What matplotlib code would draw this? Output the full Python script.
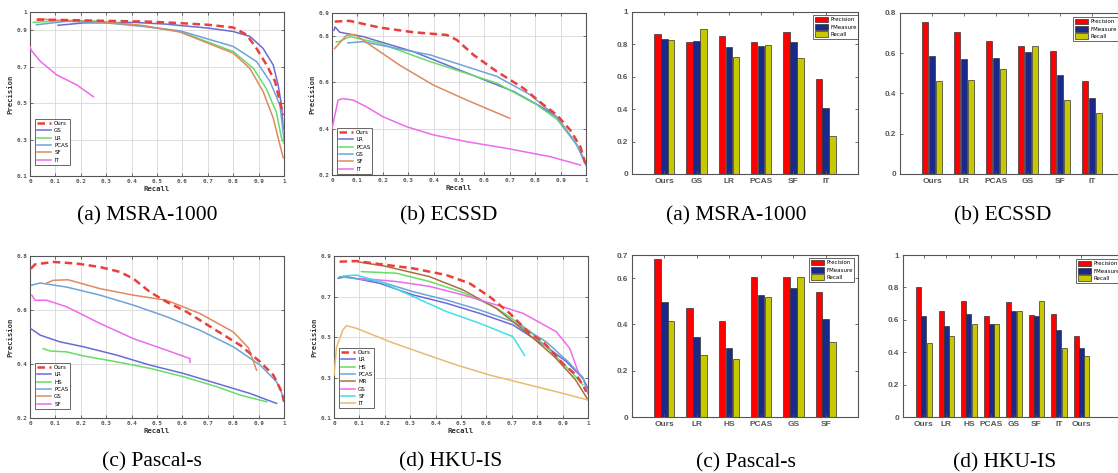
import matplotlib
matplotlib.use("Agg")
import matplotlib.pyplot as plt

W, H = 1118, 473

# ---------------- PR curves, (recall, precision) ----------------
MSRA_OURS = [(0.026, 0.958), (0.1, 0.957), (0.276, 0.952), (0.47, 0.947), (0.59, 0.939), (0.7, 0.93),
             (0.8, 0.915), (0.853, 0.875), (0.892, 0.80), (0.932, 0.708), (0.965, 0.618), (0.984, 0.507),
             (0.997, 0.434)]
MSRA_GS = [(0.11, 0.927), (0.21, 0.94), (0.41, 0.943), (0.54, 0.933), (0.59, 0.926), (0.7, 0.912),
           (0.8, 0.893), (0.866, 0.866), (0.918, 0.80), (0.958, 0.708), (0.977, 0.598), (0.99, 0.49),
           (0.997, 0.36)]
MSRA_LR = [(0.013, 0.943), (0.144, 0.954), (0.276, 0.949), (0.41, 0.93), (0.59, 0.893), (0.8, 0.783),
           (0.88, 0.69), (0.93, 0.58), (0.97, 0.45), (0.99, 0.31), (1.0, 0.28)]
MSRA_PCAS = [(0.026, 0.93), (0.144, 0.949), (0.3, 0.94), (0.45, 0.92), (0.59, 0.897), (0.8, 0.811),
             (0.892, 0.728), (0.945, 0.618), (0.984, 0.489), (1.0, 0.30)]
MSRA_SF = [(0.033, 0.963), (0.1, 0.955), (0.3, 0.945), (0.45, 0.925), (0.59, 0.89), (0.8, 0.774),
           (0.866, 0.69), (0.918, 0.563), (0.958, 0.416), (0.984, 0.27), (0.997, 0.20)]
MSRA_IT = [(0.0, 0.81), (0.005, 0.79), (0.04, 0.73), (0.105, 0.655), (0.184, 0.60), (0.25, 0.535)]

ECSSD_OURS = [(0.011, 0.863), (0.07, 0.866), (0.188, 0.837), (0.32, 0.817), (0.452, 0.805), (0.491, 0.784),
              (0.557, 0.719), (0.649, 0.647), (0.754, 0.575), (0.833, 0.503), (0.886, 0.459), (0.938, 0.394),
              (0.978, 0.322), (0.997, 0.25)]
ECSSD_LR = [(0.008, 0.825), (0.012, 0.84), (0.03, 0.817), (0.122, 0.798), (0.32, 0.733), (0.517, 0.647),
            (0.715, 0.561), (0.82, 0.497), (0.886, 0.45), (0.964, 0.33), (1.0, 0.243)]
ECSSD_PCAS = [(0.017, 0.775), (0.03, 0.777), (0.07, 0.798), (0.188, 0.769), (0.386, 0.69), (0.649, 0.597),
              (0.807, 0.503), (0.886, 0.44), (0.964, 0.33), (1.0, 0.25)]
ECSSD_GS = [(0.063, 0.771), (0.122, 0.776), (0.25, 0.748), (0.386, 0.719), (0.649, 0.626), (0.78, 0.547),
            (0.886, 0.45), (0.964, 0.33), (1.0, 0.25)]
ECSSD_SF = [(0.01, 0.746), (0.057, 0.804), (0.09, 0.807), (0.162, 0.753), (0.267, 0.674), (0.40, 0.588),
            (0.53, 0.524), (0.70, 0.445)]
ECSSD_IT = [(0.0, 0.40), (0.024, 0.524), (0.043, 0.53), (0.083, 0.524), (0.135, 0.495), (0.20, 0.452),
            (0.293, 0.409), (0.40, 0.373), (0.53, 0.344), (0.688, 0.315), (0.86, 0.279), (0.978, 0.243)]

PASCAL_OURS = [(0.003, 0.753), (0.02, 0.769), (0.092, 0.778), (0.184, 0.772), (0.276, 0.759), (0.354, 0.741),
               (0.407, 0.716), (0.472, 0.667), (0.538, 0.63), (0.617, 0.593), (0.722, 0.531), (0.827, 0.47),
               (0.906, 0.408), (0.958, 0.359), (0.991, 0.297), (1.0, 0.26)]
PASCAL_LR = [(0.003, 0.531), (0.04, 0.507), (0.118, 0.482), (0.21, 0.464), (0.341, 0.433), (0.472, 0.396),
             (0.604, 0.365), (0.735, 0.328), (0.866, 0.291), (0.971, 0.254)]
PASCAL_HS = [(0.052, 0.457), (0.079, 0.448), (0.144, 0.445), (0.21, 0.43), (0.341, 0.408), (0.472, 0.384),
             (0.604, 0.353), (0.735, 0.316), (0.827, 0.285), (0.932, 0.26)]
PASCAL_PCAS = [(0.007, 0.692), (0.04, 0.70), (0.144, 0.685), (0.276, 0.655), (0.407, 0.618), (0.538, 0.575),
               (0.669, 0.525), (0.80, 0.464), (0.906, 0.396), (0.971, 0.334), (1.0, 0.273)]
PASCAL_GS = [(0.066, 0.70), (0.092, 0.71), (0.15, 0.712), (0.276, 0.679), (0.407, 0.655), (0.538, 0.636),
             (0.669, 0.587), (0.80, 0.519), (0.86, 0.46), (0.892, 0.377)]
PASCAL_SF = [(0.007, 0.655), (0.02, 0.636), (0.066, 0.636), (0.144, 0.612), (0.276, 0.55), (0.407, 0.494),
             (0.538, 0.451), (0.63, 0.42), (0.63, 0.406)]

HKU_OURS = [(0.022, 0.872), (0.088, 0.875), (0.18, 0.86), (0.311, 0.839), (0.442, 0.806), (0.534, 0.765),
            (0.613, 0.699), (0.692, 0.617), (0.77, 0.518), (0.823, 0.477), (0.90, 0.37), (0.954, 0.312),
            (0.98, 0.263), (0.993, 0.23)]
HKU_LR = [(0.016, 0.79), (0.049, 0.798), (0.18, 0.765), (0.311, 0.708), (0.442, 0.667), (0.573, 0.617),
          (0.704, 0.56), (0.835, 0.453), (0.915, 0.378), (0.98, 0.296), (1.0, 0.246)]
HKU_HS = [(0.108, 0.823), (0.245, 0.815), (0.376, 0.774), (0.507, 0.72), (0.638, 0.645), (0.77, 0.53),
          (0.87, 0.41), (0.94, 0.32), (0.98, 0.263)]
HKU_PCAS = [(0.022, 0.798), (0.18, 0.774), (0.311, 0.724), (0.442, 0.683), (0.573, 0.634), (0.704, 0.576),
            (0.835, 0.477), (0.92, 0.38), (0.98, 0.30), (1.0, 0.22)]
HKU_MR = [(0.1, 0.87), (0.2, 0.85), (0.376, 0.798), (0.507, 0.733), (0.638, 0.642), (0.77, 0.51),
          (0.87, 0.40), (0.95, 0.29), (1.0, 0.19)]
HKU_GS = [(0.101, 0.79), (0.245, 0.774), (0.376, 0.75), (0.507, 0.708), (0.638, 0.659), (0.744, 0.617),
          (0.875, 0.526), (0.928, 0.444), (0.961, 0.329)]
HKU_SF = [(0.035, 0.801), (0.088, 0.806), (0.18, 0.774), (0.311, 0.70), (0.442, 0.626), (0.573, 0.568),
          (0.704, 0.502), (0.75, 0.41)]
HKU_IT = [(0.0, 0.312), (0.01, 0.45), (0.035, 0.535), (0.049, 0.556), (0.088, 0.543), (0.154, 0.51),
          (0.219, 0.477), (0.35, 0.419), (0.482, 0.362), (0.613, 0.312), (0.744, 0.271), (0.875, 0.23),
          (1.0, 0.189)]

# ---------------- bar charts ----------------
MSRA_CATS = ["Ours", "GS", "LR", "PCAS", "SF", "IT"]
MSRA_PREC = [0.864, 0.815, 0.852, 0.815, 0.874, 0.589]
MSRA_FMEAS = [0.834, 0.818, 0.785, 0.793, 0.815, 0.405]
MSRA_REC = [0.828, 0.896, 0.721, 0.796, 0.717, 0.233]

ECSSD_CATS = ["Ours", "LR", "PCAS", "GS", "SF", "IT"]
ECSSD_PREC = [0.755, 0.704, 0.661, 0.636, 0.609, 0.464]
ECSSD_FMEAS = [0.584, 0.573, 0.578, 0.604, 0.490, 0.377]
ECSSD_REC = [0.460, 0.465, 0.520, 0.634, 0.368, 0.305]

PASCAL_CATS = ["Ours", "LR", "HS", "PCAS", "GS", "SF"]
PASCAL_PREC = [0.682, 0.471, 0.413, 0.603, 0.607, 0.542]
PASCAL_FMEAS = [0.499, 0.347, 0.298, 0.526, 0.559, 0.423]
PASCAL_REC = [0.413, 0.266, 0.250, 0.520, 0.604, 0.325]

HKU_CATS = ["Ours", "LR", "HS", "PCAS", "GS", "SF", "IT", "Ours"]
HKU_PREC = [0.802, 0.652, 0.716, 0.623, 0.707, 0.631, 0.637, 0.503]
HKU_FMEAS = [0.625, 0.561, 0.635, 0.575, 0.654, 0.623, 0.534, 0.425]
HKU_REC = [0.458, 0.503, 0.577, 0.575, 0.654, 0.716, 0.423, 0.375]

RED = "#e8403a"
BLUE = "#6b6bd6"
GREEN = "#66dd66"
STEEL = "#6fa3d8"
ORANGE = "#df8a5e"
MAGENTA = "#ee6aee"
CYAN = "#3fe0e6"
BROWN = "#a8703e"
TAN = "#e8bb72"

MONO = {"family": "DejaVu Sans Mono", "weight": "bold"}
SANS = {"family": "Liberation Sans", "weight": "bold"}
SERIF = {"family": "Liberation Serif"}

fig = plt.figure(figsize=(W / 100, H / 100), dpi=100)


def px_axes(l, t, r, b):
    return fig.add_axes([l / W, 1 - b / H, (r - l) / W, (b - t) / H])


def style_frame(ax):
    for s in ax.spines.values():
        s.set_color("#555555")
        s.set_linewidth(0.8)
    ax.tick_params(direction="in", length=2, width=0.6, colors="#555555",
                   top=True, right=True)


def draw_pr(box, curves, ylim, yticks, leg_xy):
    ax = px_axes(*box)
    for label, pts, color in curves:
        r = [p[0] for p in pts]
        p = [p[1] for p in pts]
        if label == "Ours":
            ax.plot(r, p, color=color, lw=1.8, ls=(0, (3, 1.8)), label=label, zorder=5)
        else:
            ax.plot(r, p, color=color, lw=1.1, label=label, zorder=3)
    ax.set_xlim(0, 1)
    ax.set_ylim(*ylim)
    ax.set_xticks([i / 10 for i in range(11)])
    ax.set_xticklabels(["0"] + ["%.1f" % (i / 10) for i in range(1, 10)] + ["1"], fontdict=MONO, fontsize=4.3,
                       color="#333333")
    ax.set_yticks(yticks)
    ax.set_yticklabels([("%g" % v) for v in yticks], fontdict=MONO, fontsize=4.3, color="#333333")
    ax.grid(True, color="#d8d8d8", lw=0.6)
    ax.set_axisbelow(True)
    style_frame(ax)
    ax.tick_params(pad=2)
    ax.set_xlabel("Recall", fontdict=MONO, fontsize=5.2, color="#333333", labelpad=1.5)
    ax.set_ylabel("Precision", fontdict=MONO, fontsize=5.2, color="#333333", labelpad=2)
    leg = ax.legend(loc="upper left", bbox_to_anchor=(leg_xy[0] / W, 1 - leg_xy[1] / H),
                    bbox_transform=fig.transFigure, prop={"family": "DejaVu Sans", "size": 4},
                    frameon=True, fancybox=False, edgecolor="#222222", borderpad=0.35,
                    labelspacing=0.42, handlelength=2.6, handletextpad=0.5, borderaxespad=0)
    leg.get_frame().set_linewidth(0.6)
    leg.set_zorder(10)
    return ax


def draw_bars(box, cats, prec, fmeas, rec, xlim, ylim, yticks, width, leg_xy):
    ax = px_axes(*box)
    x = list(range(1, len(cats) + 1))
    off = width * 1.08
    kw = dict(width=width, edgecolor="#333333", linewidth=0.5)
    ax.bar([v - off for v in x], prec, color="#ff0000", label="Precision", **kw)
    ax.bar(x, fmeas, color="#1a2a8a", label="FMeasure", **kw)
    ax.bar([v + off for v in x], rec, color="#c8c800", label="Recall", **kw)
    ax.set_xlim(*xlim)
    ax.set_ylim(*ylim)
    ax.set_xticks(x)
    ax.set_xticklabels(cats, fontdict=SANS, fontsize=6, color="#444444")
    ax.set_yticks(yticks)
    ax.set_yticklabels([("%g" % v) for v in yticks], fontdict=SANS, fontsize=5.8, color="#444444")
    style_frame(ax)
    ax.tick_params(pad=3)
    leg = ax.legend(loc="upper left", bbox_to_anchor=(leg_xy[0] / W, 1 - leg_xy[1] / H),
                    bbox_transform=fig.transFigure, prop={"family": "DejaVu Sans", "size": 4},
                    frameon=True, fancybox=False, edgecolor="#222222", borderpad=0.3,
                    labelspacing=0.3, handlelength=2.4, handleheight=1.2, handletextpad=0.4,
                    borderaxespad=0)
    leg.get_frame().set_linewidth(0.6)
    return ax


draw_pr((30, 12, 284, 176),
        [("Ours", MSRA_OURS, RED), ("GS", MSRA_GS, BLUE), ("LR", MSRA_LR, GREEN),
         ("PCAS", MSRA_PCAS, STEEL), ("SF", MSRA_SF, ORANGE), ("IT", MSRA_IT, MAGENTA)],
        (0.1, 1.0), [0.1, 0.3, 0.5, 0.7, 0.9, 1.0], (35, 119))

draw_pr((332, 13, 586, 175),
        [("Ours", ECSSD_OURS, RED), ("LR", ECSSD_LR, BLUE), ("PCAS", ECSSD_PCAS, GREEN),
         ("GS", ECSSD_GS, STEEL), ("SF", ECSSD_SF, ORANGE), ("IT", ECSSD_IT, MAGENTA)],
        (0.2, 0.9), [0.2, 0.4, 0.6, 0.8, 0.9], (337, 128))

draw_pr((30, 256, 284, 418),
        [("Ours", PASCAL_OURS, RED), ("LR", PASCAL_LR, BLUE), ("HS", PASCAL_HS, GREEN),
         ("PCAS", PASCAL_PCAS, STEEL), ("GS", PASCAL_GS, ORANGE), ("SF", PASCAL_SF, MAGENTA)],
        (0.2, 0.8), [0.2, 0.4, 0.6, 0.8], (35, 363))

draw_pr((334, 256, 588, 418),
        [("Ours", HKU_OURS, RED), ("LR", HKU_LR, BLUE), ("HS", HKU_HS, GREEN),
         ("PCAS", HKU_PCAS, STEEL), ("MR", HKU_MR, BROWN), ("GS", HKU_GS, MAGENTA),
         ("SF", HKU_SF, CYAN), ("IT", HKU_IT, TAN)],
        (0.1, 0.9), [0.1, 0.3, 0.5, 0.7, 0.9], (339, 348))

draw_bars((632, 12, 858, 174), MSRA_CATS, MSRA_PREC, MSRA_FMEAS, MSRA_REC,
          (0, 7), (0, 1), [0, 0.2, 0.4, 0.6, 0.8, 1], 0.2, (813, 15))
draw_bars((900, 13, 1124, 174), ECSSD_CATS, ECSSD_PREC, ECSSD_FMEAS, ECSSD_REC,
          (0, 7), (0, 0.8), [0, 0.2, 0.4, 0.6, 0.8], 0.2, (1073, 17))
draw_bars((632, 255, 858, 417), PASCAL_CATS, PASCAL_PREC, PASCAL_FMEAS, PASCAL_REC,
          (0, 7), (0, 0.7), [0, 0.2, 0.4, 0.6, 0.7], 0.2, (809, 258))
draw_bars((903, 255, 1124, 417), HKU_CATS, HKU_PREC, HKU_FMEAS, HKU_REC,
          (0.07, 9.89), (0, 1), [0, 0.2, 0.4, 0.6, 0.8, 1], 0.22, (1076, 259))

captions = [("(a) MSRA-1000", 147, 216), ("(b) ECSSD", 449, 216),
            ("(a) MSRA-1000", 736, 216), ("(b) ECSSD", 1003, 216),
            ("(c) Pascal-s", 152, 462), ("(d) HKU-IS", 451, 462),
            ("(c) Pascal-s", 746, 463), ("(d) HKU-IS", 1005, 463)]
for txt, cx, cy in captions:
    fig.text(cx / W, 1 - cy / H, txt, ha="center", va="center", fontdict=SERIF, fontsize=15.5)

fig.savefig("out.png", dpi=100)
